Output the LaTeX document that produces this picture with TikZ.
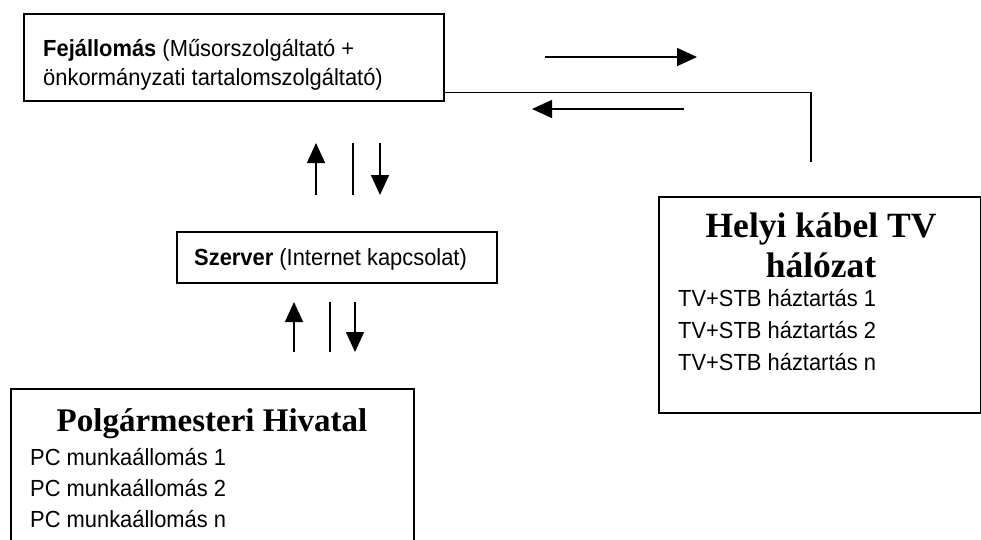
\documentclass[tikz,border=0pt]{standalone}
\usepackage{fontspec}
\setmainfont[FakeStretch=0.94]{Liberation Sans}
\newfontfamily\titlefont{Liberation Serif}
\usetikzlibrary{arrows.meta,positioning}

\begin{document}
\begin{tikzpicture}[x=1pt,y=-1pt,
    box/.style={draw,line width=1.6pt,inner sep=0pt,anchor=north west},
    txt/.style={inner sep=0pt,anchor=base west,font=\fontsize{23.3}{26}\selectfont},
    ttl/.style={inner sep=0pt,anchor=base,font=\titlefont\bfseries\fontsize{35.5}{40}\selectfont},
    arr/.style={line width=1.5pt,-{Triangle[length=20pt,width=18pt]}},
    bar/.style={line width=1.5pt}]
    \useasboundingbox (0,0) rectangle (981,539);
    \clip (0,0) rectangle (981,539);
    % boxes
    \node[box,minimum width=420pt,minimum height=87pt] (fej) at (23,13) {};
    \node[box,minimum width=320pt,minimum height=51pt] (srv) at (176,231) {};
    \node[box,minimum width=322pt,minimum height=216pt] (kab) at (658,196) {};
    \node[box,minimum width=403pt,minimum height=180pt] (hiv) at (10,388) {};
    % texts
    \node[txt] (fej1) at (43,56) {\textbf{Fejállomás} (Műsorszolgáltató +};
    \node[txt] (fej2) at (43,85) {önkormányzati tartalomszolgáltató)};
    \node[txt] (srv1) at (194,265) {\textbf{Szerver} (Internet kapcsolat)};
    \node[ttl] (kab1) at (821,237) {Helyi kábel TV};
    \node[ttl] (kab2) at (821,277) {hálózat};
    \foreach \i/\y in {1/306,2/338,n/370}
        \node[txt] (tv\i) at (678,\y) {TV+STB háztartás \i};
    \node[ttl,font=\titlefont\bfseries\fontsize{33}{38}\selectfont] (hiv1) at (212,431) {Polgármesteri Hivatal};
    \foreach \i/\y in {1/465,2/496,n/527}
        \node[txt] (pc\i) at (30,\y) {PC munkaállomás \i};
    % cable line
    \coordinate (kabtop) at (811,162);
    \draw[line width=1.4pt] ([yshift=9pt]fej.south east) -| (kabtop);
    % arrows
    \draw[arr] (545,57) -- (697,57);
    \draw[arr] (684,109) -- (532,109);
    \draw[arr] (316,195) -- (316,143);
    \draw[bar] (353,143) -- (353,195);
    \draw[arr] (380,143) -- (380,195);
    \draw[arr] (294,352) -- (294,302);
    \draw[bar] (330,302) -- (330,352);
    \draw[arr] (355,302) -- (355,352);
\end{tikzpicture}
\end{document}
